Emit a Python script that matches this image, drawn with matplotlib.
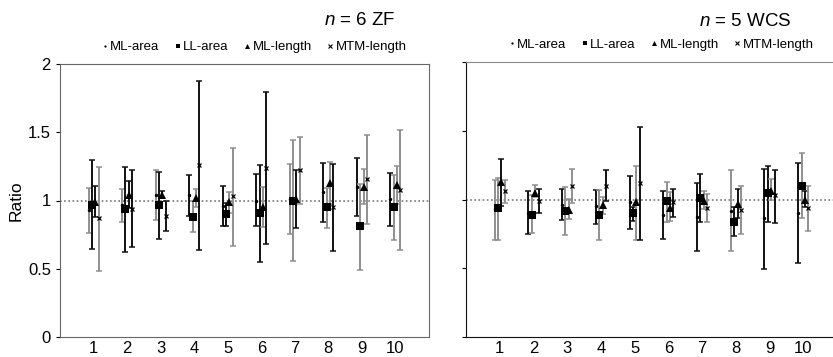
import matplotlib.pyplot as plt
from matplotlib.lines import Line2D
from matplotlib.ticker import FuncFormatter

plt.rcParams['font.family'] = ['Liberation Sans', 'DejaVu Sans']
plt.rcParams['mathtext.fontset'] = 'custom'
plt.rcParams['mathtext.it'] = 'Liberation Sans:italic'
plt.rcParams['mathtext.rm'] = 'Liberation Sans'

groups = list(range(1, 11))
series = ["ML-area", "LL-area", "ML-length", "MTM-length"]

# n = 6 ZF : mean, lower end, upper end of each bar (per group)
zf_ml_area = [0.93, 0.97, 1.04, 1.04, 0.96, 1.00, 1.01, 1.06, 1.10, 1.01]
zf_ml_area_lo = [0.76, 0.84, 0.855, 0.886, 0.813, 0.816, 0.752, 0.84, 0.886, 0.816]
zf_ml_area_hi = [1.094, 1.087, 1.226, 1.189, 1.106, 1.197, 1.265, 1.272, 1.309, 1.199]

zf_ll_area = [0.97, 0.94, 0.97, 0.88, 0.90, 0.91, 1.00, 0.95, 0.81, 0.955]
zf_ll_area_lo = [0.642, 0.62, 0.72, 0.769, 0.813, 0.547, 0.554, 0.801, 0.491, 0.711]
zf_ll_area_hi = [1.297, 1.245, 1.206, 0.994, 0.979, 1.26, 1.443, 1.092, 1.119, 1.187]

zf_ml_len = [0.99, 1.04, 1.04, 1.02, 0.99, 0.95, 1.01, 1.13, 1.10, 1.11]
zf_ml_len_lo = [0.879, 0.945, 1.018, 0.955, 0.908, 0.803, 0.801, 0.974, 0.974, 0.974]
zf_ml_len_hi = [1.109, 1.141, 1.072, 1.087, 1.065, 1.101, 1.223, 1.284, 1.228, 1.253]

zf_mtm_len = [0.87, 0.94, 0.89, 1.26, 1.03, 1.24, 1.22, 0.95, 1.16, 1.08]
zf_mtm_len_lo = [0.484, 0.659, 0.774, 0.637, 0.664, 0.679, 0.972, 0.628, 0.825, 0.635]
zf_mtm_len_hi = [1.248, 1.221, 0.999, 1.875, 1.385, 1.797, 1.467, 1.265, 1.477, 1.516]

# n = 5 WCS
wcs_ml_area = [0.93, 0.90, 0.96, 0.95, 0.98, 0.89, 0.87, 0.92, 0.865, 0.90]
wcs_ml_area_lo = [0.704, 0.746, 0.852, 0.819, 0.789, 0.714, 0.624, 0.629, 0.498, 0.535]
wcs_ml_area_hi = [1.141, 1.059, 1.074, 1.068, 1.168, 1.063, 1.122, 1.214, 1.219, 1.263]

wcs_ll_area = [0.94, 0.89, 0.92, 0.89, 0.90, 0.99, 1.01, 0.84, 1.05, 1.10]
wcs_ll_area_lo = [0.704, 0.753, 0.741, 0.704, 0.843, 0.838, 0.833, 0.733, 0.838, 0.867]
wcs_ll_area_hi = [1.158, 1.034, 1.088, 1.068, 0.947, 1.129, 1.185, 0.942, 1.243, 1.336]

wcs_ml_len = [1.13, 1.05, 0.925, 0.96, 0.98, 0.94, 0.99, 0.97, 1.06, 1.00]
wcs_ml_len_lo = [0.952, 1.015, 0.855, 0.891, 0.704, 0.843, 0.928, 0.862, 0.996, 0.947]
wcs_ml_len_hi = [1.292, 1.105, 1.001, 1.02, 1.245, 1.056, 1.063, 1.078, 1.146, 1.061]

wcs_mtm_len = [1.06, 0.99, 1.10, 1.10, 1.12, 0.98, 0.94, 0.925, 1.03, 0.935]
wcs_mtm_len_lo = [0.976, 0.899, 0.974, 0.988, 0.704, 0.874, 0.833, 0.746, 0.83, 0.772]
wcs_mtm_len_hi = [1.141, 1.078, 1.224, 1.216, 1.525, 1.078, 1.042, 1.095, 1.214, 1.095]

# bar shade per group, series order ML-area, LL-area, ML-length, MTM-length (k = black, g = grey)
zf_shade = ["gkkg", "gkkk", "gkkk", "kggk", "kkgg", "kkgk", "ggkg", "kggk", "kggg", "kggg"]
wcs_shade = ["ggkg", "kggk", "kggg", "kggk", "kkgk", "kggk", "kkgg", "gkkg", "kkgk", "kgkg"]

markers = {"ML-area": ("o", 2.5), "LL-area": ("s", 5.5), "ML-length": ("^", 5.5), "MTM-length": ("x", 3.5)}
offsets = [-0.15, -0.05, 0.05, 0.15]
shade_col = {"k": "#111111", "g": "#8f8f8f"}


def draw(ax, data, shades):
    for si, name in enumerate(series):
        mean, lo, hi = data[si]
        mk, ms = markers[name]
        for gi, g in enumerate(groups):
            col = shade_col[shades[gi][si]]
            ax.errorbar(g + offsets[si], mean[gi],
                        yerr=[[mean[gi] - lo[gi]], [hi[gi] - mean[gi]]],
                        fmt="none", ecolor=col, elinewidth=1.4, capsize=2.2, capthick=1.1)
            ax.plot(g + offsets[si], mean[gi], marker=mk, ms=ms, color="black",
                    mew=0.9 if mk == "x" else 0, linestyle="none", zorder=5)
    ax.axhline(1, color="#777777", ls=(0, (1, 1.5)), lw=1.2, zorder=1)
    ax.set_xlim(0, 11)
    ax.set_ylim(0, 2)
    ax.set_xticks(groups)
    ax.set_xticklabels([str(g) for g in groups])
    ax.set_yticks([0, 0.5, 1, 1.5, 2])
    ax.yaxis.set_major_formatter(FuncFormatter(lambda v, p: f"{v:g}"))
    ax.tick_params(axis="x", length=0, pad=3, labelsize=12)
    ax.tick_params(axis="y", direction="out", length=3, labelsize=12)
    handles = [Line2D([], [], marker=markers[n][0], ms=markers[n][1] * 0.65, color="black",
                      mew=0.8 if markers[n][0] == "x" else 0, linestyle="none") for n in series]
    ax.legend(handles, series, loc="center", bbox_to_anchor=(0.525, 1.062), ncol=4,
              frameon=False, fontsize=9.5, handlelength=0.6, handletextpad=0.1,
              columnspacing=1.1, borderpad=0)


fig = plt.figure(figsize=(8.33, 3.57), dpi=100)
ax1 = fig.add_axes([60 / 833, 20 / 357, 369 / 833, 273 / 357])
ax2 = fig.add_axes([466 / 833, 20 / 357, 371 / 833, 275 / 357])

draw(ax1, [(zf_ml_area, zf_ml_area_lo, zf_ml_area_hi),
           (zf_ll_area, zf_ll_area_lo, zf_ll_area_hi),
           (zf_ml_len, zf_ml_len_lo, zf_ml_len_hi),
           (zf_mtm_len, zf_mtm_len_lo, zf_mtm_len_hi)], zf_shade)
draw(ax2, [(wcs_ml_area, wcs_ml_area_lo, wcs_ml_area_hi),
           (wcs_ll_area, wcs_ll_area_lo, wcs_ll_area_hi),
           (wcs_ml_len, wcs_ml_len_lo, wcs_ml_len_hi),
           (wcs_mtm_len, wcs_mtm_len_lo, wcs_mtm_len_hi)], wcs_shade)

for sp in ax1.spines.values():
    sp.set_color("#666666")
ax1.set_ylabel("Ratio", fontsize=12.5, labelpad=3)
ax1.text(0.813, 1.158, "$n$ = 6 ZF", transform=ax1.transAxes, ha="center", va="center", fontsize=13.5)

ax2.spines["left"].set_color("#111111")
ax2.spines["bottom"].set_color("#111111")
ax2.spines["top"].set_color("#888888")
ax2.tick_params(axis="y", labelleft=False)
ax2.text(0.752, 1.147, "$n$ = 5 WCS", transform=ax2.transAxes, ha="center", va="center", fontsize=13.5)

fig.savefig("out.png", dpi=100)
